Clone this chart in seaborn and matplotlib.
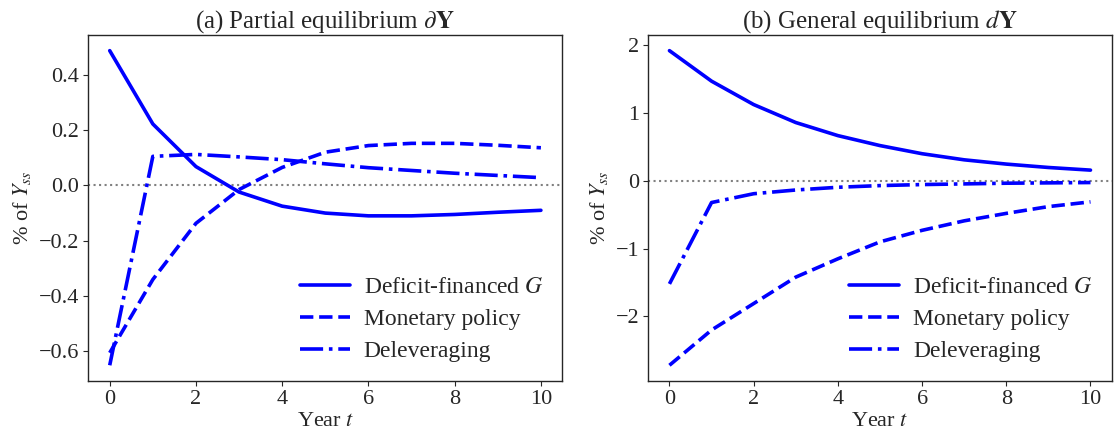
import numpy as np
import pandas as pd
import matplotlib
matplotlib.use("Agg")
import matplotlib.pyplot as plt
import seaborn as sns

years = list(range(11))
series_names = ["Deficit-financed $G$", "Monetary policy", "Deleveraging"]

pe_deficit = [0.487, 0.222, 0.068, -0.024, -0.075, -0.100, -0.110, -0.110, -0.105, -0.097, -0.090]
pe_monetary = [-0.605, -0.340, -0.137, -0.015, 0.065, 0.120, 0.144, 0.152, 0.152, 0.145, 0.136]
pe_delever = [-0.650, 0.105, 0.112, 0.103, 0.093, 0.078, 0.064, 0.054, 0.044, 0.036, 0.028]

ge_deficit = [1.92, 1.47, 1.125, 0.86, 0.667, 0.52, 0.40, 0.31, 0.247, 0.197, 0.158]
ge_monetary = [-2.72, -2.20, -1.81, -1.42, -1.15, -0.90, -0.73, -0.59, -0.48, -0.38, -0.31]
ge_delever = [-1.52, -0.32, -0.19, -0.135, -0.095, -0.07, -0.055, -0.045, -0.035, -0.03, -0.025]

titles = [r"(a) Partial equilibrium $\partial\mathbf{Y}$", r"(b) General equilibrium $d\mathbf{Y}$"]
xlabel = r"Year $t$"
ylabel = r"% of $Y_{ss}$"

sns.set_style("ticks")
plt.rcParams["font.family"] = ["Liberation Serif", "DejaVu Serif"]
plt.rcParams["mathtext.fontset"] = "stix"
plt.rcParams["font.size"] = 16

fig = plt.figure(figsize=(11.16, 4.42), dpi=100)
ax1 = fig.add_axes([0.079, 0.138, 0.425, 0.783])
ax2 = fig.add_axes([0.581, 0.138, 0.415, 0.783])

styles = ["-", "--", "-."]
panels = [(ax1, [pe_deficit, pe_monetary, pe_delever]),
          (ax2, [ge_deficit, ge_monetary, ge_delever])]

for i, (ax, data) in enumerate(panels):
    ax.axhline(0, color="grey", linestyle=":", linewidth=1.5, zorder=1)
    for name, vals, ls in zip(series_names, data, styles):
        df = pd.DataFrame({"t": years, "v": vals})
        sns.lineplot(data=df, x="t", y="v", ax=ax, color="blue", linewidth=2.6,
                     linestyle=ls, label=name, zorder=3)
    ax.set_title(titles[i], fontsize=18, pad=5)
    ax.set_xlabel(xlabel, fontsize=16, labelpad=2)
    ax.set_ylabel(ylabel, fontsize=16, labelpad=4)
    ax.set_xticks([0, 2, 4, 6, 8, 10])
    ax.tick_params(labelsize=16, pad=3)
    for s in ax.spines.values():
        s.set_visible(True)
        s.set_linewidth(1.0)
    ax.legend(loc="lower right", frameon=False, fontsize=17, handlelength=2.1,
              handletextpad=0.6, borderaxespad=0.4, labelspacing=0.45)

ax1.set_yticks([-0.6, -0.4, -0.2, 0.0, 0.2, 0.4])
ax2.set_yticks([-2, -1, 0, 1, 2])
ax2.set_yticklabels(["\u22122", "\u22121", "0", "1", "2"])

fig.savefig("out.png", dpi=100)
